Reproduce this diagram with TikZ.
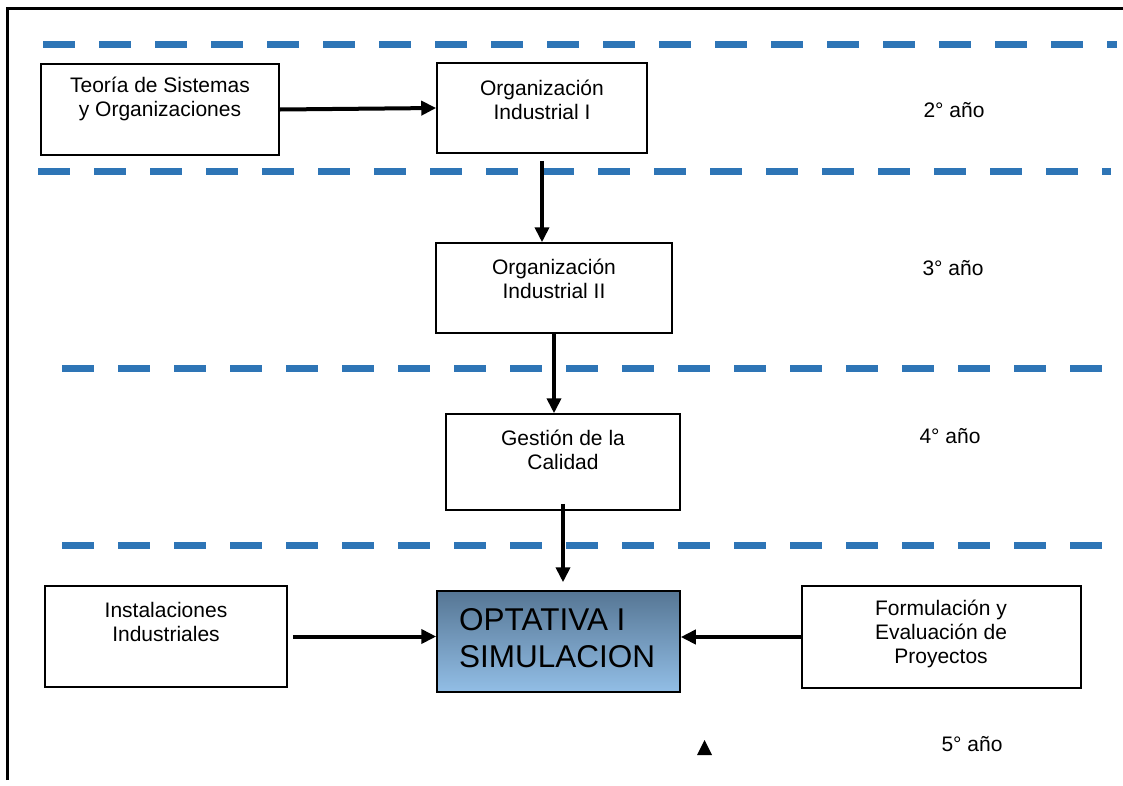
\documentclass[tikz,border=0pt]{standalone}
\usepackage{fontspec}
\setmainfont{Liberation Sans}
\usetikzlibrary{arrows.meta}
\definecolor{lineblue}{RGB}{46,117,182}
\definecolor{boxtop}{RGB}{86,118,148}
\definecolor{boxbot}{RGB}{146,190,230}
\begin{document}
\begin{tikzpicture}[x=1pt,y=-1pt,
    box/.style={rectangle,draw,line width=1.5pt,inner sep=0pt},
    boxtext/.style={align=center,inner sep=0pt,font=\fontsize{21}{24}\selectfont},
    year/.style={inner sep=0pt,font=\fontsize{21}{24}\selectfont},
    link/.style={-{Triangle[length=15pt,width=14pt]},line width=4pt},
    sep/.style={lineblue,line width=7pt,dash pattern=on 32pt off 24pt}]

       \useasboundingbox (0,0) rectangle (1123,785);

       % frame
       \draw[line width=3pt] (7,780) -- (7,8) -- (1123,8);

       % year separators
       \foreach \y/\a/\b in {44/43/1117, 171/38/1111, 368/62/1102, 545/62/1103}
         \draw[sep] (\a,\y) -- (\b,\y);

       % courses
       \node[box,minimum width=238,minimum height=91] (teoria) at (160,109.5) {};
       \node[boxtext] (teoriatxt) at (160,99) {Teoría de Sistemas\\y Organizaciones};

       \node[box,minimum width=210,minimum height=90] (orgI) at (542,108) {};
       \node[boxtext] (orgItxt) at (542,99.5) {Organización\\Industrial I};

       \node[box,minimum width=236,minimum height=90] (orgII) at (554,288) {};
       \node[boxtext] (orgIItxt) at (554,279) {Organización\\Industrial II};

       \node[box,minimum width=234,minimum height=96] (gestion) at (563,462) {};
       \node[boxtext] (gestiontxt) at (563,450) {Gestión de la\\Calidad};

       \node[box,minimum width=242,minimum height=101] (instal) at (166,636.5) {};
       \node[boxtext] (instaltxt) at (166,622) {Instalaciones\\Industriales};

       \node[box,minimum width=279,minimum height=102] (formul) at (941.5,637) {};
       \node[boxtext] (formultxt) at (941,634) {Formulación y\\Evaluación de\\Proyectos};

       \node[box,minimum width=243,minimum height=101,top color=boxtop,bottom color=boxbot] (optativa) at (558.5,641.5) {};
       \node[align=left,inner sep=0pt,anchor=north west,font=\fontsize{31.5}{37}\selectfont] (optativatxt) at (459,608) {OPTATIVA I\\SIMULACION};

       % years
       \node[year] (y2) at (954,110) {2° año};
       \node[year] (y3) at (953,268) {3° año};
       \node[year] (y4) at (950,436) {4° año};
       \node[year] (y5) at (972,744) {5° año};

       \fill (697,755) -- (712,755) -- (704.5,740) -- cycle;

       % prerequisites
       \draw[link] (teoria.east) -- (orgI.west);
       \draw[link,shorten <=7pt] (orgI.south) -- (orgI.south |- orgII.north);
       \draw[link] (orgII.south) -- (orgII.south |- gestion.north);
       \draw[link,shorten >=8pt] ([yshift=7pt]gestion.south) -- (gestion.south |- optativa.north);
       \draw[link,shorten <=5pt] (instal.east) -- (instal.east -| optativa.west);
       \draw[link] (formul.west) -- (formul.west -| optativa.east);
     \end{tikzpicture}
\end{document}
